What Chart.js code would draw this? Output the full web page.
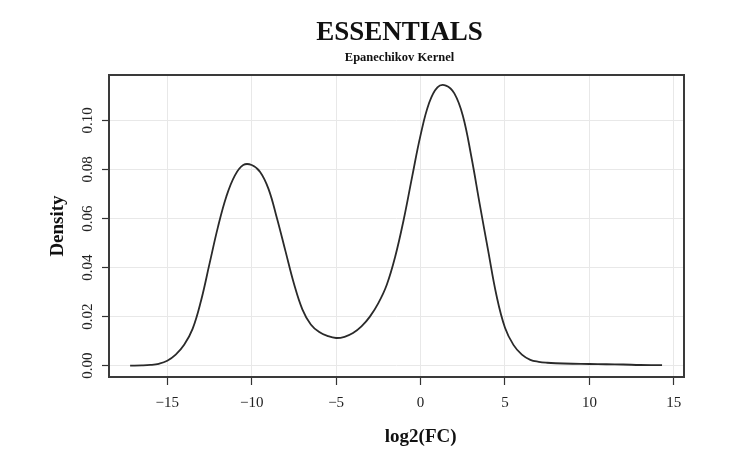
<!DOCTYPE html>
<html>
<head>
<meta charset="utf-8">
<script src="https://cdn.jsdelivr.net/npm/chart.js@4"></script>
<style>
  html, body { margin: 0; padding: 0; background: #fff; }
  #wrap { width: 738px; height: 450px; }
</style>
</head>
<body>
<div id="wrap"><canvas id="myChart" width="738" height="450"></canvas></div>
<script>
// density curve
const log2fc = [-17.2, -16.5, -16, -15.5, -15, -14.5, -14, -13.5, -13, -12.5, -12, -11.5, -11, -10.5, -10,
  -9.5, -9, -8.5, -8, -7.5, -7, -6.5, -6, -5.5, -5, -4.5, -4, -3.5, -3, -2.5, -2, -1.5, -1, -0.5,
  0, 0.5, 1, 1.5, 2, 2.5, 3, 3.5, 4, 4.5, 5, 5.5, 6, 6.5, 7, 7.5, 8, 9, 10, 11, 12, 13, 14.3];
const density = [0.0000, 0.0001, 0.0003, 0.0008, 0.002, 0.0045, 0.0085, 0.0150, 0.0265, 0.0415, 0.0565, 0.0690, 0.0775, 0.0818, 0.0818,
  0.0790, 0.0720, 0.0600, 0.0467, 0.0335, 0.0230, 0.0168, 0.0137, 0.0121, 0.0113, 0.0118, 0.0133, 0.0160, 0.0200, 0.0255, 0.0330, 0.0445, 0.0595, 0.0770,
  0.0940, 0.1070, 0.1135, 0.1142, 0.1110, 0.1020, 0.0855, 0.0660, 0.0470, 0.0285, 0.0155, 0.0085, 0.0045, 0.0024, 0.0016, 0.0012, 0.0010, 0.0008, 0.0007, 0.0006, 0.0005, 0.0003, 0.0002];

const xTicks = [-15, -10, -5, 0, 5, 10, 15];
const yTicks = [0, 0.02, 0.04, 0.06, 0.08, 0.10];

const mainTitle = "ESSENTIALS";
const subTitle = "Epanechikov Kernel";
const xLabel = "log2(FC)";
const yLabel = "Density";

const serif = "'Liberation Serif', 'DejaVu Serif', serif";

// titles + box, R style
const rFrame = {
  id: 'rFrame',
  afterDraw(chart) {
    const {ctx, chartArea: a} = chart;
    ctx.save();
    ctx.strokeStyle = '#3a3a3a';
    ctx.lineWidth = 2;
    ctx.strokeRect(a.left, a.top, a.right - a.left, a.bottom - a.top);

    const cx = (a.left + a.right) / 2 + 3;
    ctx.fillStyle = '#111';
    ctx.textAlign = 'center';
    ctx.textBaseline = 'middle';
    ctx.font = "bold 27px " + serif;
    ctx.fillText(mainTitle, cx, 33);
    ctx.font = "bold 12.5px " + serif;
    ctx.fillText(subTitle, cx, 58);

    ctx.font = "bold 19px " + serif;
    ctx.fillText(xLabel, a.left + (a.right - a.left) * 0.542, 437);
    ctx.restore();
  }
};

new Chart("myChart", {
  type: "line",
  data: {
    datasets: [{
      data: log2fc.map((x, i) => ({x: x, y: density[i]})),
      borderColor: "#2a2a2a",
      borderWidth: 1.8,
      pointRadius: 0,
      tension: 0.4,
      fill: false
    }]
  },
  options: {
    responsive: false,
    animation: false,
    layout: {padding: {top: 75, right: 54, bottom: 0, left: 0}},
    plugins: {
      legend: {display: false},
      tooltip: {enabled: false}
    },
    scales: {
      x: {
        type: 'linear',
        min: -18.45,
        max: 15.6,
        afterBuildTicks: s => { s.ticks = xTicks.map(v => ({value: v})); },
        afterFit: s => { s.height = 73; },
        border: {display: false},
        grid: {color: '#e8e8e8', tickColor: '#333', tickLength: 8, tickWidth: 1.2},
        ticks: {
          color: '#222',
          padding: 9,
          font: {family: serif, size: 15},
          callback: v => (v < 0 ? '\u2212' + Math.abs(v) : String(v))
        }
      },
      y: {
        min: -0.0046,
        max: 0.1185,
        afterBuildTicks: s => { s.ticks = yTicks.map(v => ({value: v})); },
        afterFit: s => { s.width = 109; },
        border: {display: false},
        grid: {color: '#e8e8e8', tickColor: '#333', tickLength: 7, tickWidth: 1.2},
        title: {
          display: true,
          text: yLabel,
          color: '#111',
          padding: {top: 47, bottom: 0},
          font: {family: serif, size: 19, weight: 'bold'}
        },
        ticks: {
          color: '#222',
          padding: 1,
          minRotation: 90,
          maxRotation: 90,
          crossAlign: 'center',
          font: {family: serif, size: 15},
          callback: v => v.toFixed(2)
        }
      }
    }
  },
  plugins: [rFrame]
});
</script>
</body>
</html>
